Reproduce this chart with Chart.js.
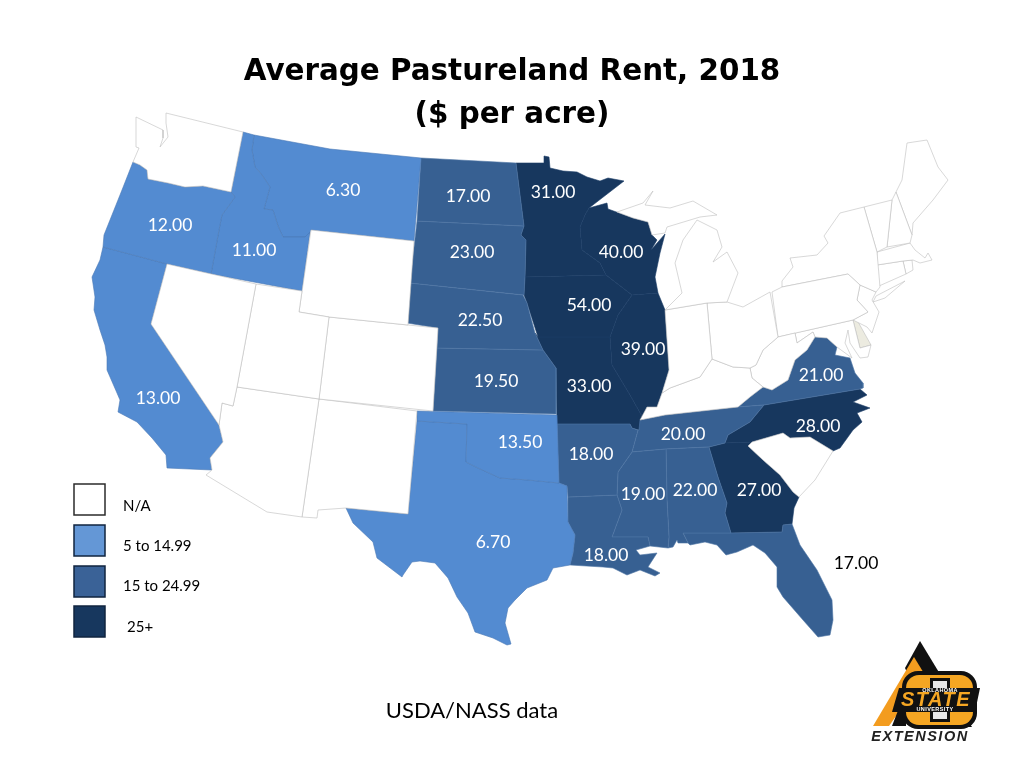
<!DOCTYPE html>
<html><head><meta charset="utf-8">
<style>html,body{margin:0;padding:0;background:#fff}canvas{display:block}</style>
<script src="https://cdn.jsdelivr.net/npm/chart.js@4/dist/chart.umd.min.js"></script>
</head><body>
<canvas id="c" width="1024" height="768"></canvas>
<script>
// Rent, $ per acre (null = N/A)
const stateNames  = ["WA","NV","UT","WY","CO","AZ","NM","MI","MIU","IN","OH","KY","WV","PA","NY","LI","NJ","MD","VT","NH","ME","MA","CT","RI","SC","DE",
  "OR","ID","MT","CA","OK","TX","ND","SD","NE","KS","AR","LA","MS","AL","TN","VA","FL","MN","WI","IA","IL","MO","NC","GA"];
const stateValues = [null,null,null,null,null,null,null,null,null,null,null,null,null,null,null,null,null,null,null,null,null,null,null,null,null,null,
  12,11,6.3,13,13.5,6.7,17,23,22.5,19.5,18,18,19,22,20,21,17,31,40,54,39,33,28,27];

// State outlines
const WA=[[136,117],[163,130],[163,138],[160,147],[168,137],[166,123],[166,113],[243,132],[231,192],[203,186],[185,187],[168,183],[148,179],[147,170],[140,165],[133,162],[139,148],[136,147]];
const OR=[[133,162],[140,165],[147,170],[148,179],[168,183],[185,187],[203,186],[231,192],[235,197],[222,215],[219,230],[211,274],[167,264],[103,247],[104,235],[112,215],[122,190]];
const ID=[[243,132],[254,135],[252,150],[255,167],[262,175],[270,187],[264,209],[273,210],[278,226],[283,237],[305,237],[310,232],[302,291],[211,274],[219,230],[222,215],[235,197],[231,192]];
const MT=[[254,135],[330,149],[421,158],[414,241],[311,230],[308,237],[283,237],[278,226],[273,210],[264,209],[270,187],[262,175],[255,167],[252,150]];
const WY=[[311,230],[414,241],[408,325],[329,317],[299,312]];
const NV=[[167,264],[256,284],[237,387],[233,406],[222,403],[219,425],[151,324]];
const CA=[[103,247],[167,264],[151,324],[219,425],[223,442],[210,458],[212,470],[167,468],[166,455],[152,438],[137,422],[118,412],[120,400],[117,393],[107,370],[107,357],[105,345],[100,330],[94,310],[95,297],[92,277],[100,260]];
const UT=[[256,284],[302,291],[299,312],[329,317],[319,399],[237,387]];
const CO=[[329,317],[408,325],[438,328],[433,411],[319,399]];
const AZ=[[237,387],[319,399],[302,517],[267,512],[206,475],[212,470],[210,458],[223,442],[219,425],[222,403],[233,406]];
const NM=[[319,399],[417,411],[408,514],[346,508],[318,510],[317,518],[302,517]];
const OK=[[417,411],[557,415],[559,483],[528,480],[500,478],[478,468],[466,462],[467,424],[417,421]];
const TX=[[417,421],[467,424],[466,462],[478,468],[500,478],[528,480],[559,483],[567,486],[568,522],[575,535],[573,553],[570,565],[553,568],[547,580],[527,588],[515,600],[508,608],[505,623],[511,644],[507,645],[493,638],[475,632],[468,613],[457,597],[448,578],[435,563],[420,561],[412,562],[403,575],[402,577],[377,558],[373,542],[353,523],[346,508],[408,514]];
const KS=[[437,348],[543,350],[556,368],[556,414],[433,411]];
const NE=[[410,283],[523,295],[527,303],[535,333],[543,350],[437,348],[438,328],[407,323]];
const SD=[[417,221],[524,226],[521,235],[526,240],[525,277],[524,295],[410,283]];
const ND=[[421,158],[516,163],[520,195],[524,226],[417,221]];
const MN=[[516,163],[544,163],[544,156],[549,157],[550,168],[563,171],[577,172],[587,177],[600,181],[608,178],[624,181],[589,208],[585,215],[580,227],[582,250],[600,263],[606,275],[525,277],[526,240],[521,235],[524,226],[520,195]];
const WI=[[589,208],[607,203],[608,209],[633,218],[648,222],[652,235],[657,240],[651,250],[665,234],[660,253],[655,277],[658,293],[632,295],[606,275],[600,263],[582,250],[580,227],[585,215]];
const IA=[[525,277],[606,275],[632,295],[618,315],[610,337],[538,337],[527,303],[524,295]];
const IL=[[632,295],[658,293],[665,310],[667,340],[669,370],[662,393],[657,407],[647,407],[643,418],[630,395],[612,365],[610,337],[618,315]];
const MO=[[538,337],[610,337],[612,365],[630,395],[643,418],[639,430],[632,428],[630,424],[557,424],[556,368],[543,350],[535,333]];
const AR=[[557,424],[630,424],[632,428],[638,430],[632,452],[618,472],[617,495],[568,497],[567,486],[559,483]];
const LA=[[568,497],[617,495],[622,510],[612,537],[648,537],[650,546],[636,550],[640,555],[657,553],[648,567],[660,573],[655,576],[640,570],[627,575],[613,568],[603,567],[570,565],[573,553],[575,535],[568,522]];
const MS=[[632,452],[666,449],[667,500],[669,537],[668,548],[650,546],[648,537],[612,537],[622,510],[617,495],[618,472]];
const AL=[[666,449],[709,447],[718,477],[727,503],[725,513],[731,533],[683,533],[688,543],[678,543],[677,540],[673,547],[668,548],[669,537],[667,500]];
const GA=[[709,447],[725,443],[752,442],[748,446],[763,460],[780,475],[793,492],[799,497],[794,508],[792,524],[783,525],[782,532],[731,533],[725,513],[727,503],[718,477]];
const FL=[[683,533],[731,533],[782,532],[783,525],[792,524],[800,545],[817,570],[832,600],[833,620],[830,635],[818,637],[803,620],[783,597],[777,587],[777,567],[765,553],[753,545],[737,552],[726,555],[717,545],[705,542],[690,545],[688,543]];
const TN=[[640,420],[665,415],[738,407],[764,405],[750,422],[728,435],[725,443],[709,447],[666,449],[632,452],[638,430],[639,430]];
const NC=[[764,405],[860,389],[867,395],[853,402],[870,408],[857,413],[862,422],[853,430],[840,448],[833,451],[810,437],[790,438],[783,433],[752,442],[725,443],[728,435],[750,422]];
const VA=[[815,337],[827,338],[837,347],[835,355],[850,358],[855,373],[863,383],[863,388],[860,389],[764,405],[738,407],[750,397],[763,387],[772,390],[788,380],[795,360],[807,350]];
const KY=[[712,359],[733,367],[750,368],[752,378],[763,387],[750,397],[738,407],[665,415],[640,420],[647,407],[657,407],[662,393],[670,388],[700,377]];
const IN=[[665,310],[707,303],[712,359],[700,377],[670,388],[662,393],[669,370],[667,340]];
const OH=[[707,303],[727,302],[743,307],[770,292],[778,337],[763,350],[756,365],[750,368],[733,367],[712,359]];
const MI=[[665,310],[682,293],[675,263],[683,240],[697,220],[717,230],[722,247],[713,262],[727,252],[738,273],[727,302],[707,303]];
const MIU=[[617,212],[643,203],[653,191],[645,205],[670,208],[693,201],[717,215],[700,217],[667,227],[665,233],[652,235],[648,222],[633,218]];
const WV=[[778,337],[795,333],[797,343],[813,332],[815,337],[807,350],[795,360],[788,380],[772,390],[763,387],[752,378],[750,368],[756,365],[763,350]];
const PA=[[772,292],[782,287],[848,274],[860,285],[857,300],[868,312],[853,320],[778,337]];
const NY=[[782,287],[782,281],[793,267],[790,258],[817,255],[828,243],[824,236],[840,213],[864,207],[877,252],[880,287],[876,292],[860,285],[848,274]];
const LI=[[876,296],[905,281],[885,298],[873,302]];
const NJ=[[860,285],[876,292],[872,300],[879,312],[872,333],[867,327],[853,320],[868,312],[857,300]];
const DE=[[853,320],[857,320],[871,345],[860,348]];
const MD=[[795,333],[853,320],[860,348],[871,345],[868,357],[860,358],[850,343],[848,330],[845,343],[852,358],[837,347],[827,338],[815,337],[813,332],[797,343]];
const VT=[[864,207],[892,200],[887,247],[877,252]];
const NH=[[892,200],[896,192],[912,235],[910,243],[887,247]];
const ME=[[896,192],[902,180],[907,143],[927,140],[938,167],[948,180],[933,200],[913,223],[912,235]];
const MA=[[877,252],[910,243],[915,250],[925,258],[928,253],[932,260],[920,263],[913,260],[903,261],[877,265]];
const CT=[[877,265],[903,261],[906,274],[879,286]];
const RI=[[903,261],[912,260],[913,270],[906,274]];
const SC=[[752,442],[783,433],[790,438],[810,437],[833,451],[815,480],[799,497],[793,492],[780,475],[763,460],[748,446]];
const outlines={WA,OR,ID,MT,WY,NV,CA,UT,CO,AZ,NM,OK,TX,KS,NE,SD,ND,MN,WI,IA,IL,MO,AR,LA,MS,AL,GA,FL,TN,NC,VA,KY,IN,OH,MI,MIU,WV,PA,NY,LI,NJ,DE,MD,VT,NH,ME,MA,CT,RI,SC};

const labelTexts = ["6.30","17.00","31.00","12.00","11.00","23.00","40.00","54.00","22.50","39.00","19.50","33.00","21.00","13.00","28.00","20.00","13.50","18.00","19.00","22.00","27.00","6.70","18.00"];
const labelXs    = [343,468,553,170,254,472,621,589,480,643,496,589,821,158,818,683,520,591,643,695,759,493,606];
const labelYs    = [190,196,192,225,250,252,252,305,320,349,381,386,375,398,426,434,442,454,494,490,490,542,555];
const outsideLabel = "17.00";
const titleLines = ["Average Pastureland Rent, 2018","($ per acre)"];
const legendTexts = ["N/A","5 to 14.99","15 to 24.99","25+"];
const legendColors = ["#ffffff","#6497d6","#3a6297","#17375e"];
const binFills = ["#ffffff","#538bd1","#376092","#17375e"];
const binEdges = ["#bdbdbd","#4a79b5","#4f75a5","#1b3c66"];
const bin = v => v===null ? 0 : v<15 ? 1 : v<25 ? 2 : 3;

const datasets = stateNames.map((name,i)=>{
  const b = name==="DE" ? -1 : bin(stateValues[i]);
  return {
    label:name,
    data:outlines[name].concat([outlines[name][0]]).map(p=>({x:p[0],y:p[1]})),
    showLine:true, tension:0, pointRadius:0, pointHoverRadius:0,
    fill:'shape',
    backgroundColor: b<0 ? "#ecebe0" : binFills[b],
    borderColor: b<0 ? "#bdbdbd" : binEdges[b],
    borderWidth:0.6, clip:false
  };
});

const textPlugin = {
  id:'texts',
  afterDatasetsDraw(chart){
    const ctx=chart.ctx, sx=chart.scales.x, sy=chart.scales.y;
    ctx.save();
    ctx.textBaseline='middle'; ctx.textAlign='center';
    // title
    ctx.fillStyle='#000'; ctx.font='bold 29.4px "DejaVu Sans"';
    ctx.fillText(titleLines[0],512,72);
    ctx.fillText(titleLines[1],512,115);
    // value labels
    ctx.font='17.5px Lato'; ctx.fillStyle='#fff';
    labelTexts.forEach((t,i)=>ctx.fillText(t,sx.getPixelForValue(labelXs[i]),sy.getPixelForValue(labelYs[i])));
    ctx.fillStyle='#000';
    ctx.fillText(outsideLabel,sx.getPixelForValue(856),sy.getPixelForValue(563));
    ctx.font='22px Lato';
    ctx.fillText("USDA/NASS data",472,711);
    // legend
    const tops=[484,525,566,606];
    ctx.textAlign='left'; ctx.font='15px Lato';
    legendTexts.forEach((t,i)=>{
      ctx.fillStyle=legendColors[i]; ctx.fillRect(74,tops[i],31,31);
      ctx.strokeStyle= i===0?'#2b2b2b':'#10243f'; ctx.lineWidth=1.5; ctx.strokeRect(74,tops[i],31,31);
      ctx.fillStyle='#000'; ctx.fillText(t, i===3?127:123, [506,546,586,627][i]);
    });
    drawLogo(ctx);
    ctx.restore();
  }
};
function poly(ctx,pts,fill){ctx.beginPath();pts.forEach((p,i)=>i?ctx.lineTo(p[0],p[1]):ctx.moveTo(p[0],p[1]));ctx.closePath();ctx.fillStyle=fill;ctx.fill();}
function drawLogo(ctx){
  poly(ctx,[[920,641],[972,727],[932,727],[905,668]],'#111');
  poly(ctx,[[914,657],[873,726],[889,726],[925,675]],'#f39c1f');
  poly(ctx,[[906,690],[892,726],[906,726]],'#111');
  ctx.beginPath();ctx.roundRect(902,671,75,58,16);ctx.fillStyle='#111';ctx.fill();
  ctx.beginPath();ctx.roundRect(906,675,67,50,13);ctx.fillStyle='#f5a623';ctx.fill();
  ctx.fillStyle='#111';ctx.fillRect(930,678,20,44);
  ctx.fillStyle='#e8e8e8';ctx.fillRect(933,681,14,38);
  poly(ctx,[[899,688],[980,688],[975,712],[892,712]],'#111');
  ctx.textAlign='center';
  ctx.fillStyle='#f5a623';ctx.font='italic bold 20px "Liberation Sans"';
  ctx.letterSpacing='1.5px';
  ctx.fillText("STATE",936,700.5);
  ctx.letterSpacing='0.4px';
  ctx.fillStyle='#fff';ctx.font='bold 5.5px "Liberation Sans"';
  ctx.fillText("OKLAHOMA",940,690.5);
  ctx.fillText("UNIVERSITY",935,709);
  ctx.fillStyle='#222';ctx.font='italic bold 14.5px "Liberation Sans"';
  ctx.letterSpacing='1.5px';
  ctx.fillText("EXTENSION",920,737);
  ctx.letterSpacing='0px';
}

new Chart(document.getElementById('c'),{
  type:'scatter',
  data:{datasets},
  options:{
    responsive:false, animation:false, events:[],
    layout:{padding:0},
    scales:{
      x:{type:'linear',display:false,min:0,max:1024},
      y:{type:'linear',display:false,min:0,max:768,reverse:true}
    },
    plugins:{legend:{display:false},tooltip:{enabled:false},title:{display:false}}
  },
  plugins:[textPlugin]
});
</script>
</body></html>
